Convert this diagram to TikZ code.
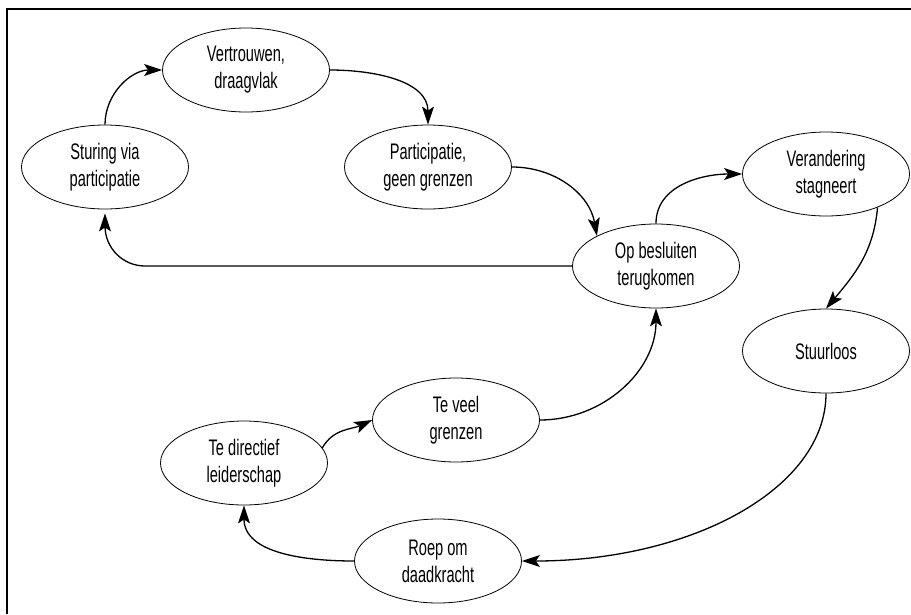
\documentclass[tikz,border=0pt]{standalone}
\usepackage{fontspec}
\setmainfont{Liberation Sans}[FakeStretch=0.65]
\usetikzlibrary{shapes.geometric,arrows.meta}
\begin{document}
\begin{tikzpicture}[x=1pt,y=-1pt,
  bub/.style={ellipse, draw, line width=0.8pt, minimum width=167pt, minimum height=84pt,
    inner sep=0pt, align=center, font=\fontsize{22.5}{27}\selectfont},
  conn/.style={line width=1.3pt, -{Stealth[length=18pt,width=12pt,inset=4pt]}},
  frameline/.style={line width=2pt}]
\useasboundingbox (0,0) rectangle (911,614);
\coordinate (fa) at (7,614);
\coordinate (fb) at (7,9);
\coordinate (fc) at (911,9);
\draw[frameline] (fa) -- (fb) -- (fc);

\node[bub] (ve) at (246,70) {Vertrouwen,\\draagvlak};
\node[bub] (st) at (105,167) {Sturing via\\participatie};
\node[bub] (pa) at (428,167) {Participatie,\\geen grenzen};
\node[bub] (op) at (656,266) {Op besluiten\\terugkomen};
\node[bub] (vs) at (826,174) {Verandering\\stagneert};
\node[bub] (sl) at (826,351) {Stuurloos};
\node[bub] (tv) at (456,420) {Te veel\\grenzen};
\node[bub] (td) at (244,463) {Te directief\\leiderschap};
\node[bub] (ro) at (438,561) {Roep om\\daadkracht};

\draw[conn] (st.north) to[out=90,in=180] (ve.west);
\draw[conn] (ve.east) to[out=0,in=90] (pa.north);
\draw[conn] (pa.east) to[out=0,in=100] (op.153);
\draw[conn] (op.north) to[out=90,in=180] (vs.west);
\draw[conn] (vs.-33) to[out=-95,in=50] (sl.north);
\draw[conn] (sl.south) .. controls +(0,95) and +(170,0) .. (ro.east);
\draw[conn] (ro.west) to[out=180,in=-90] (td.south);
\draw[conn] (td.11) to[out=60,in=205] (tv.west);
\draw[conn] (tv.east) to[out=0,in=-90] (op.south);
\draw[conn, rounded corners=40pt, shorten >=4pt] (op.west) -| (st.south);
\end{tikzpicture}
\end{document}
